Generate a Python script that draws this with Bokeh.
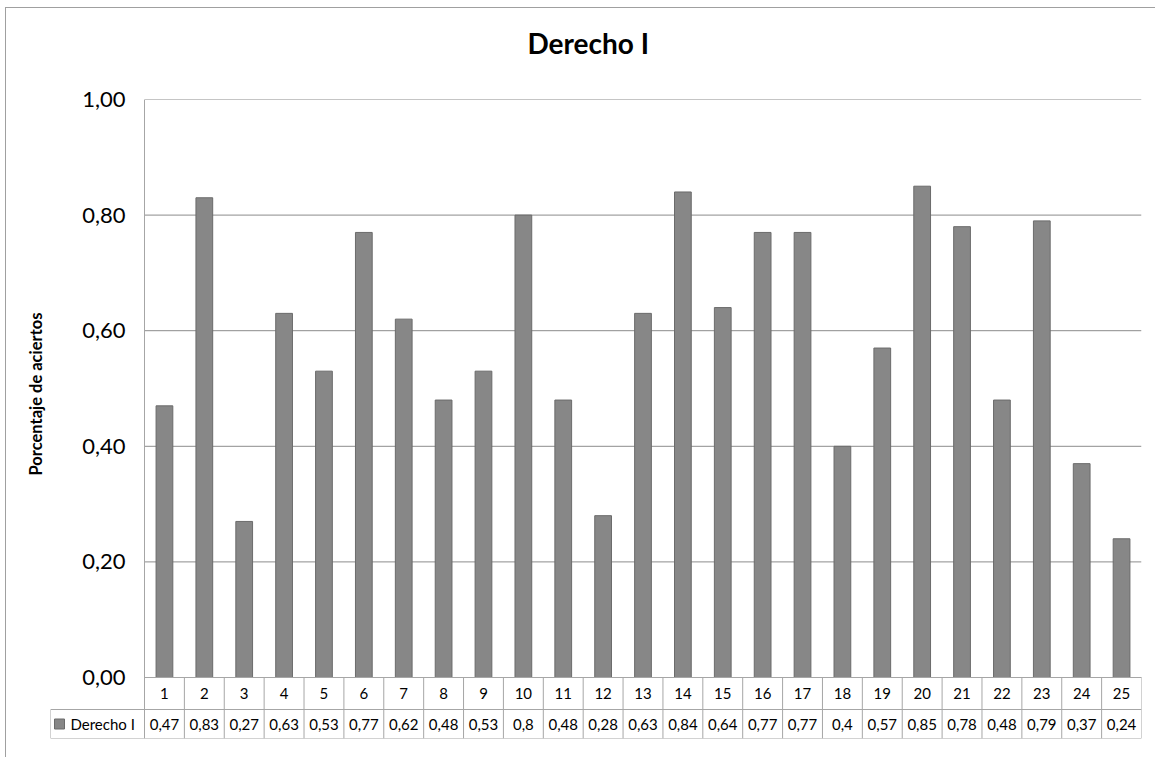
from bokeh.plotting import figure
from bokeh.models import Range1d, FixedTicker, Title
from bokeh.embed import file_html
from bokeh.resources import INLINE
from bokeh.core.properties import value

# ---- data ----
title_text = "Derecho I"
series_name = "Derecho I"
y_label = "Porcentaje de aciertos"
categories = ["1", "2", "3", "4", "5", "6", "7", "8", "9", "10", "11", "12", "13",
              "14", "15", "16", "17", "18", "19", "20", "21", "22", "23", "24", "25"]
values = [0.47, 0.83, 0.27, 0.63, 0.53, 0.77, 0.62, 0.48, 0.53, 0.80, 0.48, 0.28, 0.63,
          0.84, 0.64, 0.77, 0.77, 0.40, 0.57, 0.85, 0.78, 0.48, 0.79, 0.37, 0.24]
value_labels = ["0,47", "0,83", "0,27", "0,63", "0,53", "0,77", "0,62", "0,48", "0,53", "0,8",
                "0,48", "0,28", "0,63", "0,84", "0,64", "0,77", "0,77", "0,4", "0,57", "0,85",
                "0,78", "0,48", "0,79", "0,37", "0,24"]
y_ticks = [0.0, 0.2, 0.4, 0.6, 0.8, 1.0]
y_tick_labels = ["0,00", "0,20", "0,40", "0,60", "0,80", "1,00"]

# ---- layout constants (page pixels of the reference) ----
FONT = "Lato"
OX, OY = 6, 8                      # canvas origin on the page (outer chart border)
W, H = 1150, 750
PL, PR, PT, PB = 144, 1141, 99, 677   # plot area
TBL_LEFT, ROW1_B, ROW2_B = 50, 709, 738
n = len(categories)
cat_px = (PR - PL) / n
px_per_unit = float(PB - PT)
row1_bottom = -(ROW1_B - PB) / px_per_unit
row2_bottom = -(ROW2_B - PB) / px_per_unit
row1_mid = (row1_bottom) / 2
row2_mid = (row1_bottom + row2_bottom) / 2
x_start = 0.5 - (PL - TBL_LEFT) / cat_px
xs = list(range(1, n + 1))

p = figure(width=W, height=H, output_backend="svg", toolbar_location=None, title=None,
           x_range=Range1d(x_start, n + 0.5), y_range=Range1d(row2_bottom, 1.0),
           min_border_left=TBL_LEFT - OX, min_border_right=W - (PR - OX),
           min_border_top=PT - OY, min_border_bottom=H - (ROW2_B - OY))
p.styles = {"margin": f"{OY - 1}px 0px 0px {OX - 1}px",
            "border-left": "1px solid #a0a0a0", "border-top": "1px solid #a0a0a0"}
p.outline_line_color = None
p.background_fill_color = "white"
p.border_fill_color = "white"

# spacer between plot area and chart title, then the title itself
p.add_layout(Title(text=" ", text_font_size="1px", standoff=37), "above")
p.add_layout(Title(text=title_text, align="left", offset=527 - TBL_LEFT, standoff=0,
                   text_font=FONT, text_font_style="bold", text_font_size="28px",
                   text_color="black"), "above")

p.xaxis.visible = False
p.xgrid.visible = False
p.ygrid.visible = False

# y axis: labels sit right of the table's left column, next to the plot area
ax = p.yaxis[0]
ax.ticker = FixedTicker(ticks=y_ticks)
ax.major_label_overrides = {t: l for t, l in zip(y_ticks, y_tick_labels)}
ax.major_label_text_font = FONT
ax.major_label_text_font_size = "22px"
ax.major_label_text_color = "black"
ax.major_label_standoff = -(125 - TBL_LEFT)
ax.major_tick_out = 0
ax.major_tick_in = 0
ax.minor_tick_out = 0
ax.minor_tick_in = 0
ax.axis_line_color = None

p.add_layout(Title(text=y_label, align="left", offset=ROW2_B - 475, text_font=FONT,
                   text_font_style="bold", text_font_size="16.5px", text_color="black"), "left")

# gridlines (only across the plot area) and the value-axis line
grid_color = "#8c8c8c"
tbl_color = "#a6a6a6"
p.segment(x0=[0.5] * len(y_ticks), y0=y_ticks, x1=[n + 0.5] * len(y_ticks), y1=y_ticks,
          line_color=grid_color, line_width=1)
p.segment(x0=[0.5], y0=[row2_bottom], x1=[0.5], y1=[1.0], line_color=tbl_color, line_width=1)

# bars
p.vbar(x=xs, top=values, width=0.42, fill_color="#878787", line_color="#6b6b6b")

# data table
p.segment(x0=[x + 0.5 for x in xs], y0=[row2_bottom] * n,
          x1=[x + 0.5 for x in xs], y1=[0] * n, line_color=tbl_color, line_width=1)
p.segment(x0=[0.5, 0.5, x_start], y0=[0, row1_bottom, row2_bottom],
          x1=[n + 0.5] * 3, y1=[0, row1_bottom, row2_bottom],
          line_color=tbl_color, line_width=1)
p.segment(x0=[x_start, x_start], y0=[row1_bottom, row2_bottom],
          x1=[0.5, x_start], y1=[row1_bottom, row1_bottom],
          line_color=tbl_color, line_width=1)
p.text(x=xs, y=[row1_mid] * n, text=categories, text_align="center", text_baseline="middle",
       text_font=value(FONT), text_font_size="15px", text_color="black")
p.text(x=xs, y=[row2_mid] * n, text=value_labels, text_align="center", text_baseline="middle",
       text_font=value(FONT), text_font_size="15px", text_color="black")

# legend key + series name in the table's first column
key_x = x_start + (59 - TBL_LEFT) / cat_px
p.rect(x=[key_x], y=[row2_mid], width=10, height=10, width_units="screen",
       height_units="screen", fill_color="#878787", line_color="#6b6b6b")
p.text(x=[x_start + (70 - TBL_LEFT) / cat_px], y=[row2_mid], text=[series_name],
       text_align="left", text_baseline="middle", text_font=value(FONT),
       text_font_size="15px", text_color="black")

open("out.html", "w").write(file_html(p, INLINE))
